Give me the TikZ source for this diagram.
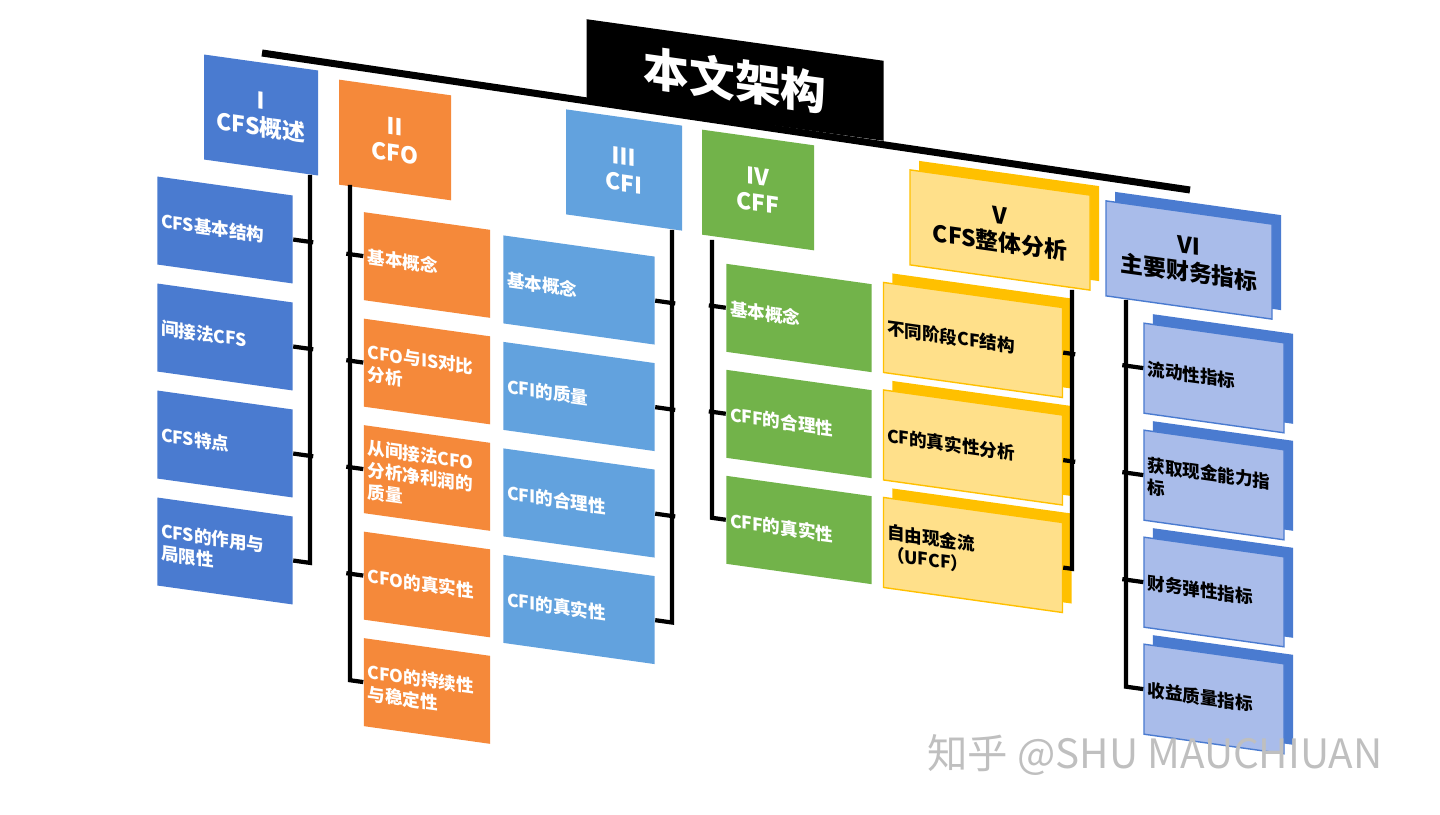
\documentclass[tikz,border=0pt]{standalone}
\usepackage{fontspec}
\setmainfont{Noto Sans CJK SC}
\XeTeXlinebreaklocale "zh"
\usetikzlibrary{shadows}
\definecolor{cI}{HTML}{4A7BD0}
\definecolor{cII}{HTML}{F5893A}
\definecolor{cIII}{HTML}{62A2DE}
\definecolor{cIV}{HTML}{72B34A}
\definecolor{cV}{HTML}{FFE08A}
\definecolor{cVside}{HTML}{FFC000}
\definecolor{cVI}{HTML}{A9BCEA}
\definecolor{cVIside}{HTML}{4A7BD0}
\tikzset{
  hdr/.style={fill=#1,text=white,font=\fontsize{6.5}{7.5}\selectfont\bfseries,align=center,inner sep=1pt},
  sub/.style={fill=#1,text=white,font=\fontsize{5}{6.2}\selectfont\bfseries,align=left,inner sep=1pt},
  solid3d/.style={general shadow={fill=#1,shadow xshift=.09cm,shadow yshift=.09cm}},
  brk/.style={line width=1.2pt}
}
% cx, cy in cm of the reference (y downwards)
\newcommand\subcol[6]{%
  \foreach \t [count=\i] in {#6} {
    \node[#2] (#1\i) at ({#3},{-(#4+(\i-1)*#5)+0.14*#3}) {\t};
  }}
\begin{document}
\begin{tikzpicture}
\useasboundingbox (0,0) rectangle (14.4,-8.15);
\coordinate (barL) at (2.62,-0.53);
\coordinate (barR) at (11.9,-1.90);
\draw[line width=2pt] (barL) -- (barR);
\begin{scope}[yslant=-0.14,transform shape]
  % title
  \node[fill=black,text=white,font=\fontsize{13}{14}\selectfont\bfseries,minimum width=2.97cm,minimum height=0.8cm]
    (title) at (7.35,{-0.80+0.14*7.35}) {本文架构};
  % headers
  \node[hdr=cI,minimum width=1.14cm,minimum height=1.05cm] (h1) at (2.61,{-1.15+0.14*2.61}) {Ⅰ\\CFS概述};
  \node[hdr=cII,minimum width=1.12cm,minimum height=1.05cm] (h2) at (3.95,{-1.40+0.14*3.95}) {Ⅱ\\CFO};
  \node[hdr=cIII,minimum width=1.16cm,minimum height=1.05cm] (h3) at (6.24,{-1.70+0.14*6.24}) {Ⅲ\\CFI};
  \node[hdr=cIV,minimum width=1.12cm,minimum height=1.05cm] (h4) at (7.58,{-1.90+0.14*7.58}) {Ⅳ\\CFF};
  \node[hdr=cV,text=black,draw=cVside,solid3d=cVside,minimum width=1.8cm,minimum height=0.95cm] (h5) at (10.0,{-2.30+0.14*10.0}) {Ⅴ\\CFS整体分析};
  \node[hdr=cVI,text=black,draw=cVIside,solid3d=cVIside,minimum width=1.66cm,minimum height=0.95cm] (h6) at (11.89,{-2.60+0.14*11.89}) {Ⅵ\\主要财务指标};
  % sub boxes
  \subcol{a}{sub=cI,text width=1.28cm,minimum height=0.88cm}{2.25}{2.30}{1.07}
    {CFS基本结构,间接法CFS,CFS特点,{CFS的作用与\\局限性}}
  \subcol{b}{sub=cII,text width=1.19cm,minimum height=0.88cm}{4.27}{2.65}{1.065}
    {基本概念,{CFO与IS对比\\分析},{从间接法CFO\\分析净利润的\\质量},CFO的真实性,{CFO的持续性\\与稳定性}}
  \subcol{c}{sub=cIII,text width=1.44cm,minimum height=0.88cm}{5.79}{2.90}{1.065}
    {基本概念,CFI的质量,CFI的合理性,CFI的真实性}
  \subcol{d}{sub=cIV,text width=1.38cm,minimum height=0.88cm}{7.99}{3.18}{1.06}
    {基本概念,CFF的合理性,CFF的真实性}
  \subcol{e}{sub=cV,text=black,draw=cVside,solid3d=cVside,text width=1.72cm,minimum height=0.9cm}{9.73}{3.40}{1.075}
    {不同阶段CF结构,CF的真实性分析,{自由现金流\\（UFCF）}}
  \subcol{f}{sub=cVI,text=black,draw=cVIside,solid3d=cVIside,text width=1.33cm,minimum height=0.9cm}{12.14}{3.78}{1.07}
    {流动性指标,{获取现金能力指\\标},财务弹性指标,收益质量指标}
  % brackets
  \coordinate (t1) at (3.10,{-1.75+0.14*3.10});
  \coordinate (t2) at (3.50,{-1.85+0.14*3.50});
  \coordinate (t3) at (6.72,{-2.30+0.14*6.72});
  \coordinate (t4) at (7.12,{-2.40+0.14*7.12});
  \coordinate (t5) at (10.72,{-2.90+0.14*10.72});
  \coordinate (t6) at (11.26,{-3.00+0.14*11.26});
  \draw[brk] (t1) |- (a4.east);
  \foreach \i in {1,2,3} \draw[brk] (a\i.east) -- ++(0.2,0);
  \draw[brk] (t2) |- (b5.west);
  \foreach \i in {1,...,4} \draw[brk] (b\i.west) -- ++(-0.17,0);
  \draw[brk] (t3) |- (c4.east);
  \foreach \i in {1,2,3} \draw[brk] (c\i.east) -- ++(0.2,0);
  \draw[brk] (t4) |- (d3.west);
  \foreach \i in {1,2} \draw[brk] (d\i.west) -- ++(-0.17,0);
  \draw[brk] (t5) |- (e3.east);
  \foreach \i in {1,2} \draw[brk] (e\i.east) -- ++(0.12,0);
  \draw[brk] (t6) |- (f4.west);
  \foreach \i in {1,2,3} \draw[brk] (f\i.west) -- ++(-0.21,0);
\end{scope}
\node[text=black!25,font=\fontsize{11.5}{13}\selectfont,anchor=west] (mark) at (9.15,-7.55) {知乎 @SHU MAUCHIUAN};
\end{tikzpicture}
\end{document}
